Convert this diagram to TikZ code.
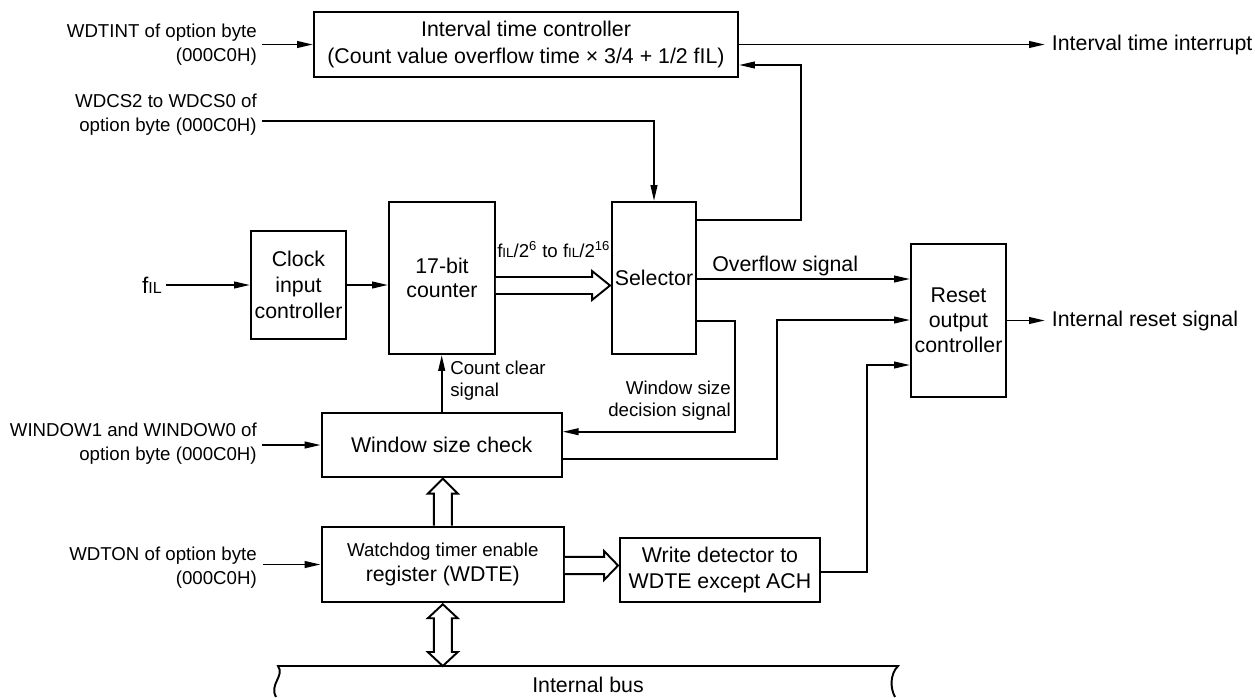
\documentclass[tikz,border=0pt]{standalone}
\usepackage{fontspec}
\setmainfont{Liberation Sans}
\usetikzlibrary{arrows.meta,calc}
\newcommand\fsz[2]{\fontsize{#1}{#2}\selectfont}
\newcommand\smil[1]{{\fontsize{#1}{#1}\selectfont IL}}
\begin{document}
\begin{tikzpicture}[x=0.75pt,y=-0.75pt,
  box/.style={draw,line width=1.45pt,inner sep=0pt,align=center,font=\fsz{16}{19.5}},
  ln/.style={line width=1.45pt},
  arr/.style={line width=1.45pt,-{Triangle[length=12pt,width=5pt]}},
  hollow/.style={draw,line width=1.45pt,fill=white,line join=miter},
  lbl/.style={inner sep=0pt,align=right,font=\fsz{14}{18}},
  txt/.style={inner sep=0pt,font=\fsz{16}{19.5}},
  small/.style={inner sep=0pt,font=\fsz{14}{16.5}},
]
\useasboundingbox[fill=white] (0,0) rectangle (1255,697);

% boxes
\node[box,minimum width=318pt,minimum height=48.5pt,font=\fsz{16}{20}] (itc) at (526,44.5)
  {Interval time controller\\(Count value overflow time × 3/4 + 1/2 fIL)};
\node[box,minimum width=71.25pt,minimum height=81pt] (clk) at (298.5,285) {Clock\\input\\controller};
\node[box,minimum width=79.5pt,minimum height=114pt,font=\fsz{16}{18}] (cnt) at (442,278) {17-bit\\counter};
\node[box,minimum width=63pt,minimum height=114pt] (sel) at (654,278) {Selector};
\node[box,minimum width=71.25pt,minimum height=114.3pt,font=\fsz{16}{18.75}] (rst) at (958.5,320.5) {Reset\\output\\controller};
\node[box,minimum width=180pt,minimum height=47.5pt] (win) at (441.7,445) {Window size check};
\node[box,minimum width=181.7pt,minimum height=56.7pt,font=\fsz{16}{18.75}] (wdte) at (442.8,564.5)
  {{\fontsize{14}{18.75}\selectfont Watchdog timer enable}\\register (WDTE)};
\node[box,minimum width=150pt,minimum height=48pt] (wd) at (720,570.3) {Write detector to\\WDTE except ACH};

% left labels
\node[lbl,anchor=east] (l1) at (257,45) {WDTINT of option byte\\(000C0H)};
\node[lbl,anchor=east] (l2) at (257,115) {WDCS2 to WDCS0 of\\option byte (000C0H)};
\node[lbl,anchor=east] (l3) at (257,444) {WINDOW1 and WINDOW0 of\\option byte (000C0H)};
\node[lbl,anchor=east] (l4) at (257,568) {WDTON of option byte\\(000C0H)};
\node[txt,anchor=east,inner xsep=3pt,font=\fsz{17}{19}] (fil) at (166,285) {f\smil{12}};

% right labels
\node[txt,anchor=west,inner xsep=5pt] (iti) at (1045,44.5) {Interval time interrupt};
\node[txt,anchor=west,inner xsep=5pt] (irs) at (1045,320.5) {Internal reset signal};

% signal labels
\node[inner sep=0pt,anchor=base west,font=\fsz{14}{14}] (flab) at (497,257)
  {f\smil{10}/2\textsuperscript{6} to f\smil{10}/2\textsuperscript{16}};
\node[txt,anchor=base west] (ofl) at (712,271) {Overflow signal};
\node[small,align=right,anchor=east] (dlab) at (731,401) {Window size\\decision signal};
\node[small,align=left,anchor=west] (ccl) at (450,381) {Count clear\\signal};
\node[txt] (busl) at (588,685) {Internal bus};

% coordinates
\coordinate (s1) at (262,44.5);
\coordinate (s2) at (262,121);
\coordinate (s3) at (262,445);
\coordinate (s4) at (263,564.5);
\coordinate (f1) at (801,220);
\coordinate (f2) at (801,65);
\coordinate (d1) at (735,321);
\coordinate (d2) at (735,431.7);
\coordinate (w1) at (777,459.3);
\coordinate (w2) at (777,320);
\coordinate (w3) at (866.7,572.3);
\coordinate (w4) at (866.7,365);
\coordinate (busL) at (278,666);
\coordinate (busR) at (898,666);
\path (sel.east) ++(0,1) coordinate (o1);
\path (cnt.east) ++(0,7.5) coordinate (ha);
\path (wdte.east) ++(0,1) coordinate (hb);
\coordinate (hc) at (wdte.north);
\coordinate (hd) at (wdte.south);
\coordinate (he) at (hd |- busL);

% connectors
\draw[arr] (s1) -- (s1 -| itc.west);
\draw[arr] (itc.east) -- (itc.east -| iti.west);
\draw[arr] (s2) -| (sel.north);
\draw[arr] (sel.east |- f1) -- (f1) -- (f2) -- (f2 -| itc.east);
\draw[arr] (fil.east) -- (clk.west);
\draw[arr] (clk.east) -- (clk.east -| cnt.west);
\draw[arr] (o1) -- (o1 -| rst.west);
\draw[arr] (sel.east |- d1) -- (d1) -- (d2) -- (d2 -| win.east);
\draw[arr] (w1 -| win.east) -- (w1) -- (w2) -- (w2 -| rst.west);
\draw[arr] (w3 -| wd.east) -- (w3) -- (w4) -- (w4 -| rst.west);
\draw[arr] (rst.east) -- (irs.west);
\draw[arr] (win.north) -- (win.north |- cnt.south);
\draw[arr] (s3) -- (s3 -| win.west);
\draw[arr] (s4) -- (s4 -| wdte.west);

% hollow arrows
\draw[hollow] ($(ha)+(0,-8.5)$) -- ($(sel.west|-ha)+(-19,-8.5)$) -- ($(sel.west|-ha)+(-19,-14.5)$)
  -- ($(sel.west|-ha)+(-1,0)$) -- ($(sel.west|-ha)+(-19,14.5)$) -- ($(sel.west|-ha)+(-19,8.5)$) -- ($(ha)+(0,8.5)$);
\draw[hollow] ($(hb)+(0,-8.7)$) -- ($(wd.west|-hb)+(-15,-8.7)$) -- ($(wd.west|-hb)+(-15,-14.5)$)
  -- ($(wd.west|-hb)+(-1,0)$) -- ($(wd.west|-hb)+(-15,14.5)$) -- ($(wd.west|-hb)+(-15,8.7)$) -- ($(hb)+(0,8.7)$);
\draw[hollow] ($(hc)+(-9,0)$) -- ($(hc|-win.south)+(-9,16)$) -- ($(hc|-win.south)+(-15,16)$)
  -- ($(hc|-win.south)+(0,1)$) -- ($(hc|-win.south)+(15,16)$) -- ($(hc|-win.south)+(9,16)$) -- ($(hc)+(9,0)$);
\draw[hollow] ($(hd)+(0,1)$) -- ($(hd)+(15,15)$) -- ($(hd)+(9,15)$) -- ($(he)+(9,-14)$) -- ($(he)+(15,-14)$)
  -- (he) -- ($(he)+(-15,-14)$) -- ($(he)+(-9,-14)$) -- ($(hd)+(-9,15)$) -- ($(hd)+(-15,15)$) -- cycle;

% internal bus
\draw[ln] ($(busL)+(-2,31)$) .. controls ($(busL)+(-9,18)$) and ($(busL)+(7,10)$) .. (busL) -- (busR)
  .. controls ($(busR)+(-8,8)$) and ($(busR)+(-8,22)$) .. ($(busR)+(-3,31)$);
\end{tikzpicture}
\end{document}
